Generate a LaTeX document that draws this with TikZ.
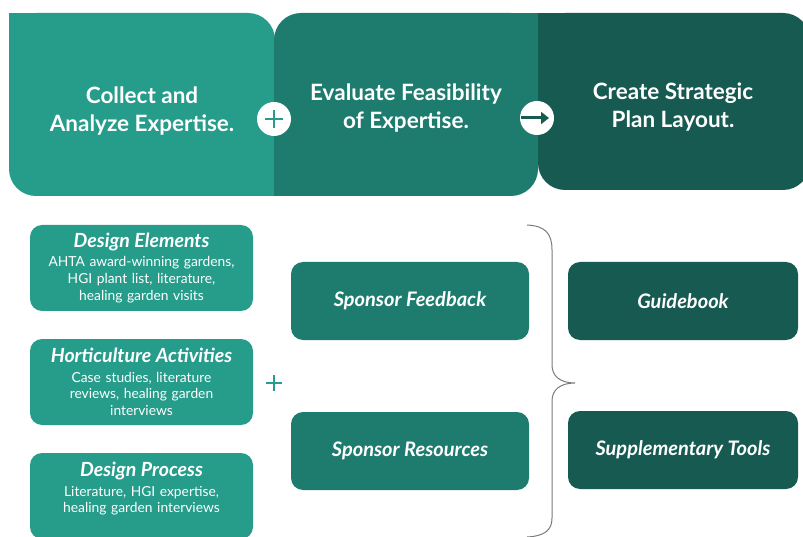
\documentclass[tikz,border=0pt]{standalone}
\usepackage{fontspec}
\setmainfont{Lato}
\usepackage{tikz}
\usetikzlibrary{positioning,arrows.meta}

\definecolor{stepone}{HTML}{269C8B}
\definecolor{steptwo}{HTML}{1E7C6F}
\definecolor{stepthree}{HTML}{175A51}
\definecolor{bracegray}{HTML}{7A7A7A}

\newcommand{\sourcehead}[1]{{\fontsize{19.5}{21}\selectfont\bfseries\itshape #1}\\[2.5pt]}

\begin{document}
\begin{tikzpicture}[x=1pt, y=-1pt,
    phase/.style={text=white, align=center, font=\fontsize{22.5}{28}\selectfont\bfseries},
    joint/.style={circle, fill=white, minimum size=34pt, inner sep=0pt},
    source/.style={rectangle, rounded corners=12pt, fill=stepone, text=white, text width=215pt, minimum width=223pt, minimum height=86pt, align=center, inner sep=0pt, font=\fontsize{13.8}{16.8}\selectfont},
    sponsor/.style={rectangle, rounded corners=12pt, fill=steptwo, text=white, minimum width=238pt, minimum height=78pt, inner sep=0pt, font=\fontsize{20}{24}\selectfont\bfseries\itshape},
    result/.style={sponsor, fill=stepthree, minimum width=230pt},
    brace/.style={draw=bracegray, line width=1pt}
]
    \useasboundingbox (0,0) rectangle (803,537);

    % Phase panels
    \fill[stepone, rounded corners=27pt] (9,13) rectangle (275,196);
    \fill[stepone] (9,13) rectangle (60,60);
    \fill[stepone] (220,150) rectangle (275,196);
    \fill[steptwo, rounded corners=27pt] (274,13) rectangle (538,196);
    \fill[steptwo] (490,13) rectangle (538,60);
    \fill[steptwo] (274,150) rectangle (330,196);
    \fill[stepthree, rounded corners=27pt] (538,13) rectangle (810,190);
    \fill[stepthree] (538,13) rectangle (590,60);

    \node[phase] (collect) at (142,111) {Collect and\\Analyze Expertise.};
    \node[phase] (evaluate) at (406,108) {Evaluate Feasibility\\of Expertise.};
    \node[phase] (create) at (673,107) {Create Strategic\\Plan Layout.};

    % Joints between phases
    \node[joint] (plus) at (274,119) {};
    \draw[stepone, line width=2.5pt] ([xshift=-9pt]plus.center) -- ([xshift=9pt]plus.center);
    \draw[stepone, line width=2.5pt] ([yshift=-9pt]plus.center) -- ([yshift=9pt]plus.center);
    \node[joint] (then) at (537,118) {};
    \draw[stepthree, line width=3pt, -{Triangle[length=8pt, width=12pt]}] ([xshift=-16pt]then.center) -- ([xshift=12pt]then.center);

    % Expertise sources
    \node[source] (elements) at (141.5,268) {\sourcehead{Design Elements}AHTA award-winning gardens,\\HGI plant list, literature,\\healing garden visits};
    \node[source] (activities) at (141.5,382) {\sourcehead{Horticulture Activities}Case studies, literature\\reviews, healing garden\\interviews};
    \node[source] (process) at (141.5,496) {\sourcehead{Design Process}Literature, HGI expertise,\\healing garden interviews\\\mbox{}};

    % Sponsor input
    \coordinate (and) at (274,383);
    \draw[stepone, line width=1.5pt] ([xshift=-8pt]and) -- ([xshift=8pt]and);
    \draw[stepone, line width=1.5pt] ([yshift=-8pt]and) -- ([yshift=8pt]and);
    \node[sponsor] (feedback) at (410,301) {Sponsor Feedback};
    \node[sponsor] (resources) at (410,451) {Sponsor Resources};

    % Brace
    \draw[brace] (527,225) .. controls (545,226) and (552,233) .. (552,250) -- (552,365)
        .. controls (552,376) and (560,383) .. (575,383)
        .. controls (560,383) and (552,390) .. (552,401) -- (552,518)
        .. controls (552,530) and (545,536) .. (527,537);

    % Outputs
    \node[result] (guide) at (683,301) {Guidebook};
    \node[result] (tools) at (683,450) {Supplementary Tools};
\end{tikzpicture}
\end{document}
